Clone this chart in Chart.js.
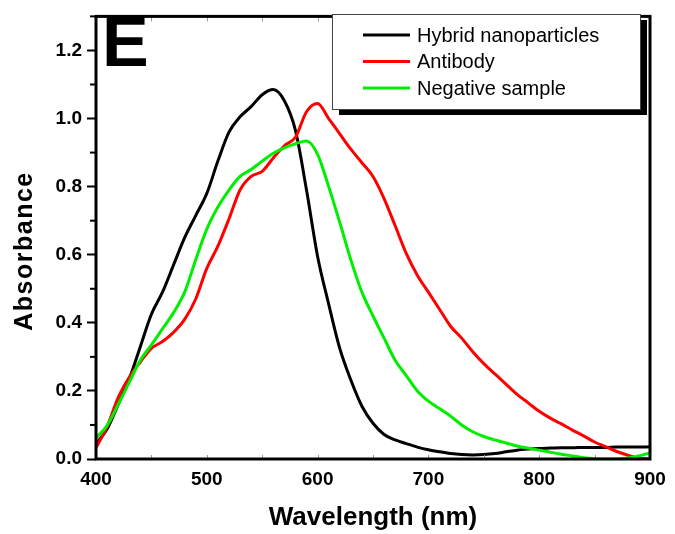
<!DOCTYPE html>
<html>
<head>
<meta charset="utf-8">
<script src="https://cdn.jsdelivr.net/npm/chart.js@4.4.1/dist/chart.umd.min.js"></script>
<style>
  html, body { margin: 0; padding: 0; background: #fff; }
  #wrap { width: 675px; height: 534px; }
</style>
</head>
<body>
<div id="wrap"><canvas id="absChart"></canvas></div>
<script>
// UV-vis spectra (nm / absorbance)
const wavelengths = [400, 410, 420, 430, 440, 450, 460, 470, 480, 490,
                     500, 510, 520, 530, 540, 550, 560, 570, 580, 590,
                     600, 610, 620, 630, 640, 650, 660, 670, 680, 690,
                     700, 710, 720, 730, 740, 750, 760, 770, 780, 790,
                     800, 810, 820, 830, 840, 850, 860, 870, 880, 890, 900];

const hybrid = [0.045, 0.088, 0.16, 0.235, 0.33, 0.425, 0.49, 0.57, 0.65, 0.715,
                0.78, 0.875, 0.96, 1.005, 1.035, 1.07, 1.085, 1.052, 0.965, 0.79,
                0.595, 0.455, 0.325, 0.232, 0.155, 0.105, 0.072, 0.056, 0.045, 0.035,
                0.027, 0.021, 0.016, 0.013, 0.012, 0.013, 0.016, 0.021, 0.026, 0.029,
                0.031, 0.032, 0.033, 0.033, 0.034, 0.034, 0.034, 0.035, 0.035, 0.035, 0.036];

const antibody = [0.033, 0.095, 0.18, 0.24, 0.285, 0.325, 0.345, 0.372, 0.41, 0.47,
                  0.56, 0.625, 0.705, 0.79, 0.83, 0.845, 0.884, 0.92, 0.945, 1.02,
                  1.044, 1.0, 0.955, 0.91, 0.87, 0.83, 0.765, 0.685, 0.604, 0.54,
                  0.49, 0.44, 0.39, 0.355, 0.315, 0.28, 0.25, 0.22, 0.19, 0.165,
                  0.14, 0.12, 0.103, 0.085, 0.068, 0.05, 0.036, 0.022, 0.011, 0.002, 0.0];

const negative = [0.062, 0.098, 0.16, 0.225, 0.29, 0.335, 0.382, 0.43, 0.49, 0.585,
                  0.675, 0.74, 0.79, 0.83, 0.85, 0.875, 0.898, 0.914, 0.926, 0.934,
                  0.895, 0.8, 0.695, 0.585, 0.49, 0.42, 0.355, 0.29, 0.245, 0.2,
                  0.17, 0.148, 0.126, 0.1, 0.08, 0.066, 0.056, 0.047, 0.038, 0.032,
                  0.026, 0.02, 0.014, 0.009, 0.004, 0.001, 0.0, 0.0, 0.003, 0.009, 0.018];

const seriesNames = ['Hybrid nanoparticles', 'Antibody', 'Negative sample'];
const seriesColors = ['#000000', '#ff0000', '#00ee00'];

const FONT = '"Liberation Sans", Arial, sans-serif';

function pts(ys) {
    return wavelengths.map((x, i) => ({ x: x, y: ys[i] }));
}

// frame, minor ticks, y title, boxed legend with shadow, panel letter
const decorPlugin = {
    id: 'decor',
    afterDraw(chart) {
        const ctx = chart.ctx;
        const a = chart.chartArea;
        const xs = chart.scales.x, ys = chart.scales.y;
        ctx.save();

        // light inner ticks every 50 nm on top and bottom
        ctx.strokeStyle = '#9a9a9a';
        ctx.lineWidth = 1;
        for (let w = 450; w < 900; w += 50) {
            const px = Math.round(xs.getPixelForValue(w)) + 0.5;
            ctx.beginPath();
            ctx.moveTo(px, a.top); ctx.lineTo(px, a.top + 5);
            ctx.moveTo(px, a.bottom); ctx.lineTo(px, a.bottom - 4);
            ctx.stroke();
        }

        // minor y ticks (odd tenths), shorter than the major ones
        ctx.strokeStyle = '#000';
        ctx.lineWidth = 2;
        ys.ticks.forEach(t => {
            if (Math.round(t.value * 10) % 2 === 1) {
                const py = ys.getPixelForValue(t.value);
                ctx.beginPath();
                ctx.moveTo(a.left - 6, py); ctx.lineTo(a.left, py);
                ctx.stroke();
            }
        });

        // frame
        ctx.lineWidth = 3;
        ctx.strokeRect(a.left, a.top, a.right - a.left, a.bottom - a.top);

        // y axis title (sits a bit below the plot centre in the original)
        ctx.save();
        ctx.translate(25, 251);
        ctx.rotate(-Math.PI / 2);
        ctx.font = 'bold 25px ' + FONT;
        ctx.letterSpacing = '1.5px';
        ctx.textAlign = 'center';
        ctx.textBaseline = 'middle';
        ctx.fillStyle = '#000';
        ctx.fillText('Absorbance', 0, 0);
        ctx.restore();

        // legend box with drop shadow
        const bx = 332, by = 14, bw = 308, bh = 95;
        ctx.fillStyle = '#000';
        ctx.fillRect(bx + 7, by + 6, bw, bh);
        ctx.fillStyle = '#fff';
        ctx.fillRect(bx, by, bw, bh);
        ctx.lineWidth = 1;
        ctx.strokeStyle = '#444';
        ctx.strokeRect(bx + 0.5, by + 0.5, bw, bh);

        ctx.font = '20px ' + FONT;
        ctx.textBaseline = 'middle';
        ctx.textAlign = 'left';
        chart.data.datasets.forEach((ds, i) => {
            const ly = 35 + i * 26.5;
            ctx.strokeStyle = ds.borderColor;
            ctx.lineWidth = 3;
            ctx.beginPath();
            ctx.moveTo(363, ly); ctx.lineTo(410, ly);
            ctx.stroke();
            ctx.fillStyle = '#000';
            ctx.fillText(ds.label, 417, ly + 1);
        });

        // panel letter
        ctx.font = 'bold 70px ' + FONT;
        ctx.textBaseline = 'alphabetic';
        ctx.fillStyle = '#000';
        ctx.fillText('E', 102, 66);

        ctx.restore();
    }
};

const chart = new Chart(document.getElementById('absChart'), {
    type: 'line',
    data: {
        datasets: [
            { label: seriesNames[0], data: pts(hybrid), borderColor: seriesColors[0], order: 3 },
            { label: seriesNames[1], data: pts(antibody), borderColor: seriesColors[1], order: 2 },
            { label: seriesNames[2], data: pts(negative), borderColor: seriesColors[2], order: 1 }
        ]
    },
    options: {
        responsive: true,
        maintainAspectRatio: false,
        animation: false,
        layout: { padding: { top: 9, right: 25, left: 0, bottom: 0 } },
        elements: {
            point: { radius: 0 },
            line: { borderWidth: 3, cubicInterpolationMode: 'monotone', fill: false }
        },
        plugins: {
            legend: { display: false },
            tooltip: { enabled: false }
        },
        scales: {
            x: {
                type: 'linear',
                min: 400,
                max: 900,
                border: { display: false },
                grid: { drawOnChartArea: false, drawTicks: false },
                ticks: {
                    stepSize: 100,
                    padding: 9,
                    color: '#000',
                    font: { family: FONT, size: 19, weight: 'bold' },
                    maxRotation: 0
                },
                title: {
                    display: true,
                    text: 'Wavelength (nm)',
                    color: '#000',
                    font: { family: FONT, size: 26, weight: 'bold' },
                    padding: { top: 0, bottom: 1 }
                },
                afterFit(scale) { scale.height = 75; }
            },
            y: {
                min: 0,
                max: 1.3,
                border: { display: false },
                grid: {
                    drawOnChartArea: false,
                    tickLength: 9,
                    tickWidth: 2,
                    tickColor: c => (c.tick && Math.round(c.tick.value * 10) % 2 === 0) ? '#000' : 'rgba(0,0,0,0)'
                },
                ticks: {
                    stepSize: 0.1,
                    autoSkip: false,
                    padding: 5,
                    color: '#000',
                    font: { family: FONT, size: 19, weight: 'bold' },
                    callback: v => Math.round(v * 10) % 2 === 0 ? v.toFixed(1) : ''
                },
                afterFit(scale) { scale.width = 96; }
            }
        }
    },
    plugins: [decorPlugin]
});
</script>
</body>
</html>
